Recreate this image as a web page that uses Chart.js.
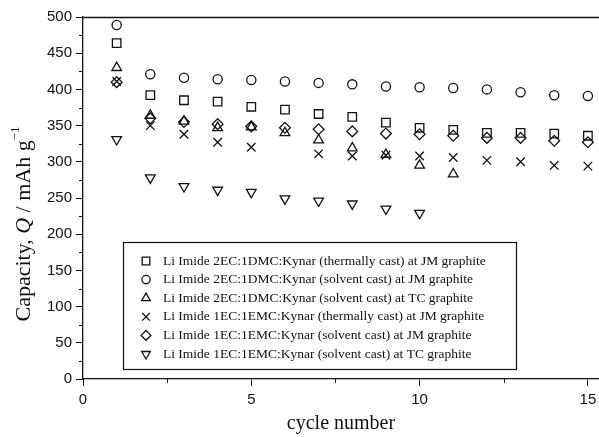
<!DOCTYPE html>
<html>
<head>
<meta charset="utf-8">
<script src="https://cdn.jsdelivr.net/npm/chart.js@4.4.1/dist/chart.umd.min.js"></script>
<style>
  html, body { margin: 0; padding: 0; background: #fff; }
  #wrap { width: 599px; height: 437px; position: relative; }
</style>
</head>
<body>
<div id="wrap"><canvas id="c" width="599" height="437"></canvas></div>
<script>
// Cycle numbers and capacities (mAh/g) for each cell
const cycles = [1, 2, 3, 4, 5, 6, 7, 8, 9, 10, 11, 12, 13, 14, 15];

const thermJM2EC = [464, 392, 385, 383, 376, 372, 366, 362, 354, 347, 344, 340, 340, 339, 336];
const solvJM2EC  = [489, 421, 416, 414, 413, 411, 409, 407, 404, 403, 402, 400, 396, 392, 391];
const solvTC2EC  = [430, 364, 356, 347, 348, 340, 330, 319, 310, 295, 283, null, null, null, null];
const thermJM1EC = [411, 350, 338, 327, 320, null, 311, 308, 309, 308, 306, 302, 300, 295, 294];
const solvJM1EC  = [410, 360, 355, 352, 349, 347, 345, 342, 339, 338, 336, 333, 333, 329, 327];
const solvTC1EC  = [331, 278, 266, 261, 258, 249, 246, 242, 235, 229, null, null, null, null, null];

const seriesLabels = [
  'Li Imide 2EC:1DMC:Kynar (thermally cast) at JM graphite',
  'Li Imide 2EC:1DMC:Kynar (solvent cast) at JM graphite',
  'Li Imide 2EC:1DMC:Kynar (solvent cast) at TC graphite',
  'Li Imide 1EC:1EMC:Kynar (thermally cast) at JM graphite',
  'Li Imide 1EC:1EMC:Kynar (solvent cast) at JM graphite',
  'Li Imide 1EC:1EMC:Kynar (solvent cast) at TC graphite'
];

const xTicks = [0, 5, 10, 15];
const xMinorTicks = [2.5, 7.5, 12.5];
const yTicks = [0, 50, 100, 150, 200, 250, 300, 350, 400, 450, 500];
const yMinorTicks = [25, 75, 125, 175, 225, 275, 325, 375, 425, 475];

const xTitle = 'cycle number';

const INK = '#111';

const markerStyles = [
  { pointStyle: 'rect',     radius: 6.0, rotation: 0 },
  { pointStyle: 'circle',   radius: 4.6, rotation: 0 },
  { pointStyle: 'triangle', radius: 5.6, rotation: 0 },
  { pointStyle: 'crossRot', radius: 6.0, rotation: 0 },
  { pointStyle: 'rectRot',  radius: 5.4, rotation: 0 },
  { pointStyle: 'triangle', radius: 5.6, rotation: 180 }
];

const seriesValues = [thermJM2EC, solvJM2EC, solvTC2EC, thermJM1EC, solvJM1EC, solvTC1EC];

function toPoints(vals) {
  const pts = [];
  cycles.forEach((c, i) => { if (vals[i] !== null) pts.push({ x: c, y: vals[i] }); });
  return pts;
}

const datasets = seriesValues.map((vals, i) => ({
  label: seriesLabels[i],
  data: toPoints(vals),
  showLine: false,
  pointStyle: markerStyles[i].pointStyle,
  pointRadius: markerStyles[i].radius,
  pointRotation: markerStyles[i].rotation,
  pointBorderColor: INK,
  pointBackgroundColor: 'rgba(0,0,0,0)',
  pointBorderWidth: 1.3,
  borderColor: INK,
  backgroundColor: 'rgba(0,0,0,0)'
}));

// Frame extras: top border, minor ticks, axis titles and the boxed key
const decorations = {
  id: 'decorations',
  afterDraw(chart) {
    const ctx = chart.ctx;
    const area = chart.chartArea;
    const xs = chart.scales.x, ys = chart.scales.y;
    ctx.save();
    ctx.strokeStyle = INK;
    ctx.fillStyle = INK;

    // top border
    ctx.lineWidth = 1.3;
    ctx.beginPath();
    ctx.moveTo(area.left, area.top + 0.5);
    ctx.lineTo(area.right, area.top + 0.5);
    ctx.stroke();

    // minor ticks
    ctx.lineWidth = 1;
    xMinorTicks.forEach(v => {
      const px = Math.round(xs.getPixelForValue(v)) + 0.5;
      ctx.beginPath();
      ctx.moveTo(px, area.bottom);
      ctx.lineTo(px, area.bottom + 4);
      ctx.stroke();
    });
    yMinorTicks.forEach(v => {
      const py = Math.round(ys.getPixelForValue(v)) + 0.5;
      ctx.beginPath();
      ctx.moveTo(area.left, py);
      ctx.lineTo(area.left - 4, py);
      ctx.stroke();
    });

    // x title
    ctx.font = '20px "Liberation Serif"';
    ctx.textAlign = 'center';
    ctx.textBaseline = 'middle';
    ctx.fillText(xTitle, (area.left + area.right) / 2, 424);

    // y title with italic Q and superscript -1
    const size = 22;
    const parts = [
      { t: 'Capacity, ', f: `${size}px "Liberation Serif"`, dy: 0 },
      { t: 'Q', f: `italic ${size}px "Liberation Serif"`, dy: 0 },
      { t: ' / mAh g', f: `${size}px "Liberation Serif"`, dy: 0 },
      { t: '\u22121', f: `${Math.round(size * 0.6)}px "Liberation Serif"`, dy: -8 }
    ];
    let total = 0;
    parts.forEach(p => { ctx.font = p.f; p.w = ctx.measureText(p.t).width; total += p.w; });
    ctx.translate(24, 224);
    ctx.rotate(-Math.PI / 2);
    ctx.textAlign = 'left';
    ctx.textBaseline = 'middle';
    let cx = -total / 2;
    parts.forEach(p => { ctx.font = p.f; ctx.fillText(p.t, cx, p.dy); cx += p.w; });
    ctx.setTransform(1, 0, 0, 1, 0, 0);

    // key box
    const box = { left: 123, top: 242, right: 516, bottom: 369 };
    ctx.lineWidth = 1.2;
    ctx.strokeRect(box.left + 0.5, box.top + 0.5, box.right - box.left, box.bottom - box.top);
    ctx.font = '13.5px "Liberation Serif"';
    ctx.textAlign = 'left';
    ctx.textBaseline = 'middle';
    const rowTop = 261, rowGap = 18.6;
    seriesLabels.forEach((lab, i) => {
      const y = rowTop + i * rowGap;
      const m = markerStyles[i];
      ctx.fillStyle = 'rgba(0,0,0,0)';
      ctx.strokeStyle = INK;
      ctx.lineWidth = 1.3;
      Chart.helpers.drawPoint(ctx, {
        pointStyle: m.pointStyle, radius: m.radius * 0.9, rotation: m.rotation, borderWidth: 1.3
      }, 146, y);
      ctx.fillStyle = INK;
      ctx.fillText(lab, 163, y);
    });
    ctx.restore();
  }
};

new Chart(document.getElementById('c'), {
  type: 'scatter',
  data: { datasets },
  options: {
    responsive: false,
    animation: false,
    devicePixelRatio: 1,
    layout: { autoPadding: false, padding: { top: 17, right: 0, left: 0, bottom: 0 } },
    plugins: { legend: { display: false }, tooltip: { enabled: false } },
    scales: {
      x: {
        type: 'linear',
        min: 0,
        max: 15.33,
        afterBuildTicks: s => { s.ticks = xTicks.map(v => ({ value: v })); },
        afterFit: s => { s.height = 58; s.paddingRight = 0; s.paddingLeft = 0; },
        grid: { display: true, drawOnChartArea: false, drawTicks: true, tickLength: 7, color: INK, lineWidth: 1 },
        border: { display: true, color: INK, width: 1.3 },
        ticks: { color: INK, font: { family: '"Liberation Sans"', size: 15 }, padding: 5, maxRotation: 0 }
      },
      y: {
        type: 'linear',
        min: 0,
        max: 500,
        afterBuildTicks: s => { s.ticks = yTicks.map(v => ({ value: v })); },
        afterFit: s => { s.width = 83; s.paddingTop = 0; s.paddingBottom = 0; },
        grid: { display: true, drawOnChartArea: false, drawTicks: true, tickLength: 7, color: INK, lineWidth: 1 },
        border: { display: true, color: INK, width: 1.3 },
        ticks: { color: INK, font: { family: '"Liberation Sans"', size: 15 }, padding: 4 }
      }
    }
  },
  plugins: [decorations]
});
</script>
</body>
</html>
